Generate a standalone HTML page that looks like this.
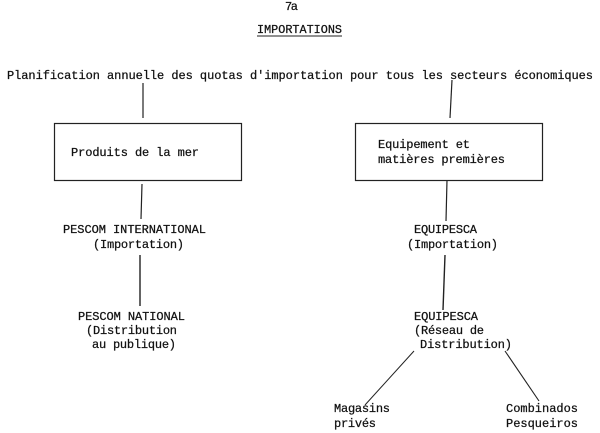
<!DOCTYPE html>
<html>
<head>
<meta charset="utf-8">
<style>
html,body{margin:0;padding:0;background:#fff;width:600px;height:433px;overflow:hidden}
svg{display:block}
text{font-family:"Liberation Mono",monospace;font-size:12px;fill:#111;stroke:#111;stroke-width:.25px;white-space:pre}
line,rect{stroke:#222;fill:none}
</style>
</head>
<body>
<svg width="600" height="433" viewBox="0 0 600 433" xmlns="http://www.w3.org/2000/svg">
<text x="285" y="10" textLength="13">7a</text>
<text x="257" y="33" textLength="85" lengthAdjust="spacingAndGlyphs">IMPORTATIONS</text>
<line x1="257" y1="36" x2="342" y2="36" stroke-width="1"/>
<text x="7" y="79" textLength="586">Planification annuelle des quotas d'importation pour tous les secteurs économiques</text>

<line x1="143" y1="83" x2="143" y2="118" stroke-width="1.2"/>
<rect x="54.5" y="123.5" width="187" height="57" stroke-width="1.2"/>
<text x="71" y="156" textLength="128">Produits de la mer</text>
<line x1="142" y1="184" x2="141" y2="219" stroke-width="1.2"/>
<text x="63" y="233" textLength="143">PESCOM INTERNATIONAL</text>
<text x="93" y="248" textLength="91">(Importation)</text>
<line x1="140" y1="255" x2="140" y2="306" stroke-width="1.4"/>
<text x="78" y="320" textLength="107">PESCOM NATIONAL</text>
<text x="86" y="334" textLength="91">(Distribution</text>
<text x="92" y="348" textLength="84">au publique)</text>

<line x1="452" y1="80" x2="450" y2="118" stroke-width="1.2"/>
<rect x="355.5" y="123.5" width="187" height="57" stroke-width="1.2"/>
<text x="378" y="148" textLength="92">Equipement et</text>
<text x="378" y="163" textLength="127">matières premières</text>
<line x1="447" y1="180" x2="446" y2="221" stroke-width="1.2"/>
<text x="414" y="233" textLength="63">EQUIPESCA</text>
<text x="407" y="248" textLength="91">(Importation)</text>
<line x1="445" y1="255" x2="443" y2="310" stroke-width="1.4"/>
<text x="414" y="320" textLength="64">EQUIPESCA</text>
<text x="414" y="334" textLength="70">(Réseau de</text>
<text x="420" y="348" textLength="92">Distribution)</text>
<line x1="414" y1="351" x2="365" y2="405" stroke-width="1"/>
<line x1="505" y1="351" x2="539" y2="401" stroke-width="1.1"/>
<text x="334" y="412" textLength="56">Magasins</text>
<text x="334" y="427" textLength="42">privés</text>
<text x="506" y="412" textLength="72">Combinados</text>
<text x="506" y="427" textLength="72">Pesqueiros</text>
</svg>
</body>
</html>
